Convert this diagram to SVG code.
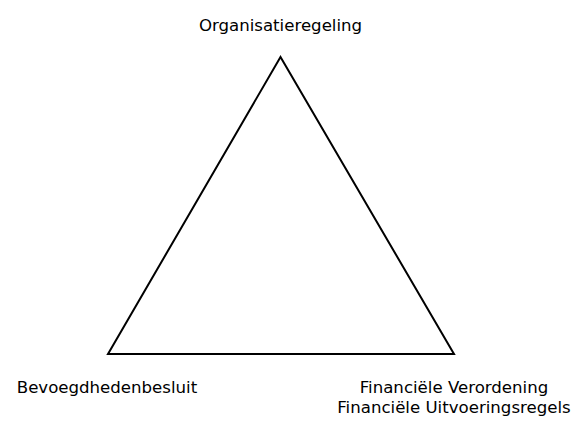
<svg xmlns="http://www.w3.org/2000/svg" width="584" height="434" viewBox="0 0 584 434">
<style>
text{font-family:"DejaVu Sans",Verdana,sans-serif;font-size:16.6px;fill:#000}
.edge{fill:none;stroke:#000;stroke-width:2}
</style>
<rect width="584" height="434" fill="#fff"/>
<g id="connectors">
<path class="edge" d="M280.5,57 L108,354 L454,354 Z" stroke-linejoin="miter"/>
</g>
<g id="node-top"><text x="280.5" y="31" text-anchor="middle">Organisatieregeling</text></g>
<g id="node-left"><text x="107" y="393" text-anchor="middle">Bevoegdhedenbesluit</text></g>
<g id="node-right"><text x="454" y="393" text-anchor="middle">Financiële Verordening</text><text x="454" y="413" text-anchor="middle">Financiële Uitvoeringsregels</text></g>
</svg>
